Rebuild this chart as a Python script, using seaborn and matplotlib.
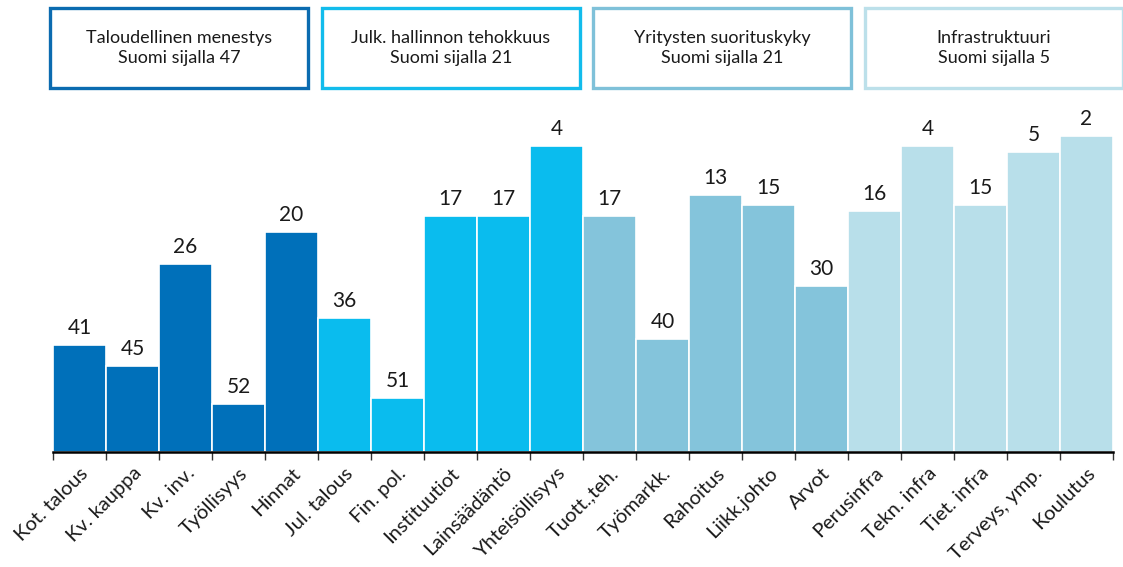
import matplotlib
matplotlib.use("Agg")
import matplotlib.pyplot as plt
from matplotlib.patches import Rectangle
import pandas as pd
import seaborn as sns

labels = ["Kot. talous", "Kv. kauppa", "Kv. inv.", "Työllisyys", "Hinnat",
          "Jul. talous", "Fin. pol.", "Instituutiot", "Lainsäädäntö", "Yhteisöllisyys",
          "Tuott.,teh.", "Työmarkk.", "Rahoitus", "Liikk.johto", "Arvot",
          "Perusinfra", "Tekn. infra", "Tiet. infra", "Terveys, ymp.", "Koulutus"]
ranks = [41, 45, 26, 52, 20,
         36, 51, 17, 17, 4,
         17, 40, 13, 15, 30,
         16, 4, 15, 5, 2]
groups = ["Talous"] * 5 + ["Hallinto"] * 5 + ["Yritykset"] * 5 + ["Infra"] * 5
group_titles = ["Taloudellinen menestys", "Julk. hallinnon tehokkuus",
                "Yritysten suorituskyky", "Infrastruktuuri"]
group_ranks = [47, 21, 21, 5]
n_countries = 61

colors = {"Talous": "#0070BA", "Hallinto": "#0ABCEE",
          "Yritykset": "#84C4DB", "Infra": "#B8DFEA"}
border_colors = ["#0B6BB0", "#12BCEC", "#7FC1D9", "#BCE0EA"]

df = pd.DataFrame({"label": labels, "rank": ranks, "group": groups})
df["height"] = n_countries - df["rank"]

sns.set_theme(style="white")
plt.rcParams["font.family"] = ["Lato", "DejaVu Sans"]

fig = plt.figure(figsize=(11.23, 5.67), dpi=100)
ax = fig.add_axes([0.0472, 0.2028, 0.9438, 0.5767])

sns.barplot(data=df, x="label", y="height", hue="group", palette=colors,
            dodge=False, width=1.0, edgecolor="white", linewidth=1.2,
            saturation=1, legend=False, ax=ax)

bars = sorted([p for p in ax.patches if p.get_height() > 0], key=lambda p: p.get_x())
for bar, r in zip(bars, ranks):
    ax.text(bar.get_x() + bar.get_width() / 2, bar.get_height() + 1.3, str(r),
            ha="center", va="bottom", fontsize=15, color="#1a1a1a")

ax.set_xlim(-0.5, len(labels) - 0.5)
ax.set_ylim(0, n_countries)
ax.set_xlabel("")
ax.set_ylabel("")
ax.set_yticks([])
for s in ["left", "right", "top"]:
    ax.spines[s].set_visible(False)
ax.spines["bottom"].set_color("black")
ax.spines["bottom"].set_linewidth(1.8)

ax.set_xticks(range(len(labels)))
ax.set_xticklabels(labels, rotation=45, ha="right", rotation_mode="anchor",
                   fontsize=14.5, color="#1a1a1a")
ax.tick_params(axis="x", which="major", length=0, pad=9)
ax.set_xticks([i - 0.5 for i in range(len(labels) + 1)], minor=True)
ax.tick_params(axis="x", which="minor", length=6, width=1, color="#333333",
               direction="out", bottom=True)

W, H = 1123, 567
box_x = [50, 322, 593, 865]
for x0, title, r, bc in zip(box_x, group_titles, group_ranks, border_colors):
    fig.patches.append(Rectangle((x0 / W, 1 - 88 / H), 258 / W, 80 / H,
                                 transform=fig.transFigure, fill=False,
                                 edgecolor=bc, linewidth=2.4))
    fig.text((x0 + 129) / W, 1 - 48 / H, f"{title}\nSuomi sijalla {r}",
             ha="center", va="center", fontsize=13, color="#1a1a1a",
             linespacing=1.3)

fig.savefig("out.png", dpi=100)
